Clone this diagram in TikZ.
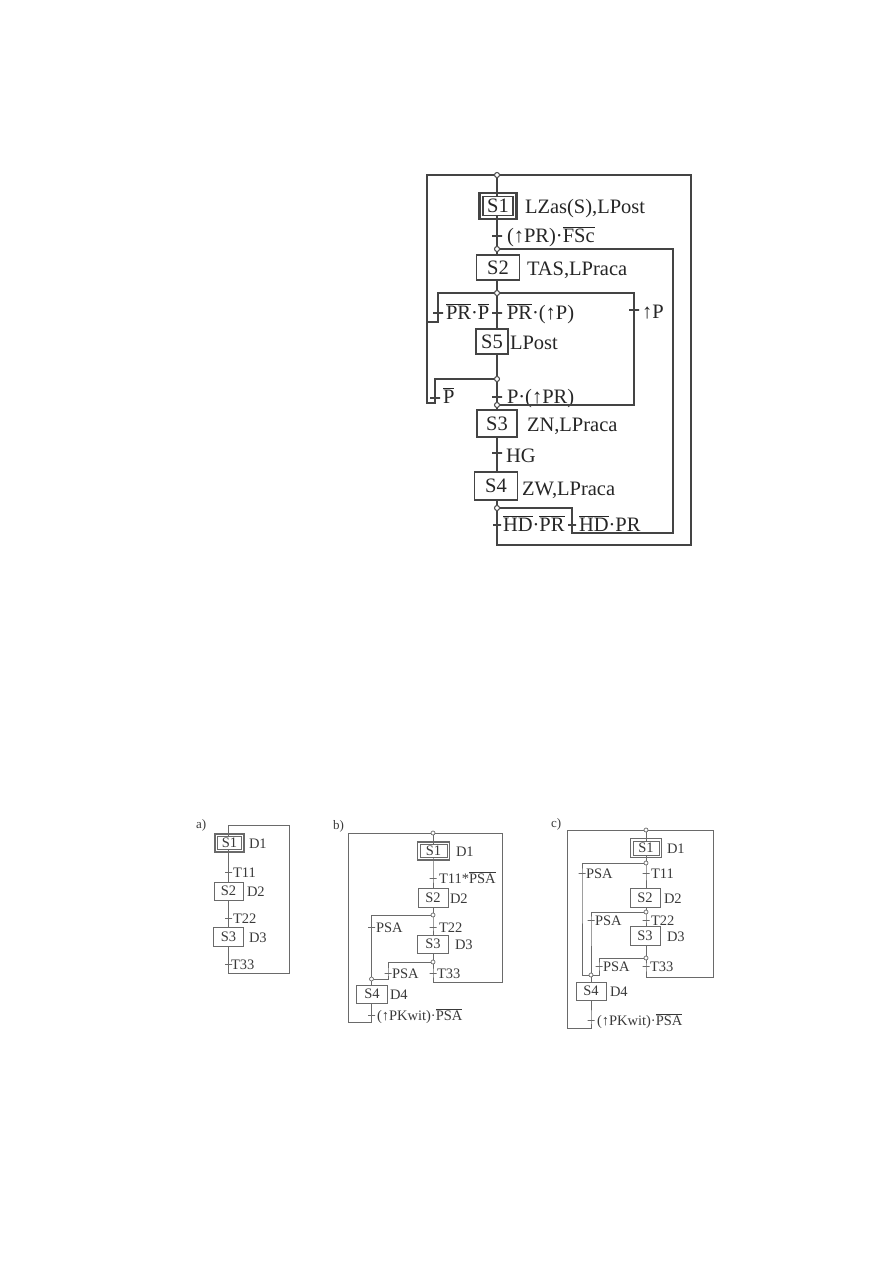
\documentclass[tikz,border=0pt]{standalone}
\usepackage{fontspec}
\setmainfont{Liberation Serif}
\definecolor{inkA}{HTML}{444444}
\definecolor{inkB}{HTML}{6A6A6A}
\definecolor{txtA}{HTML}{262626}
\definecolor{txtB}{HTML}{3A3A3A}
\newcommand\ovl[1]{\ensuremath{\overline{\mbox{#1}}}}
\newcommand\outerframe[3]{\draw[line width=#2] ([shift={(-#3,-#3)}]#1.south west) rectangle ([shift={(#3,#3)}]#1.north east);}
\tikzset{
  stepbox/.style={draw, fill=white, inner sep=0pt, outer sep=0pt, shape=rectangle},
  tick/.style={draw, shape=rectangle, minimum width=10pt, minimum height=0pt, inner sep=0pt, outer sep=0pt},
  tickb/.style={tick, minimum width=7pt},
  dot/.style={draw, circle, fill=white, inner sep=0pt, minimum size=5pt, line width=1pt},
  dotb/.style={dot, minimum size=4pt, line width=0.7pt},
  lab/.style={anchor=base west, inner sep=0pt, outer sep=0pt}
}
\begin{document}
\begin{tikzpicture}[x=1pt,y=-1pt]
\fill[white] (0,0) rectangle (893,1263);
\useasboundingbox (0,0) rectangle (893,1263);

% ================= top diagram =================
\begin{scope}[line width=1.3pt, draw=inkA, text=txtA, font=\fontsize{20.5}{24}\selectfont]
\node[dot] (J0) at (497,175) {};
\node[stepbox, minimum width=30pt, minimum height=19pt] (S1) at (498,206) {S1};
\outerframe{S1}{2.4pt}{3.6pt}
\node[tick] (T1) at (497,236) {};
\node[dot] (J1) at (497,249) {};
\node[stepbox, minimum width=43pt, minimum height=25pt] (S2) at (498,267.5) {S2};
\node[dot] (J2) at (497,293) {};
\node[tick] (T2L) at (438,313) {};
\node[tick] (T2M) at (497,313) {};
\node[tick] (T2R) at (634,310) {};
\node[stepbox, minimum width=32pt, minimum height=25pt] (S5) at (492,341.5) {S5};
\node[dot] (J3) at (497,379) {};
\node[tick] (T3L) at (435,398) {};
\node[tick] (T3M) at (497,397) {};
\node[dot] (J4) at (497,405) {};
\node[stepbox, minimum width=40pt, minimum height=27pt] (S3) at (497,423.5) {S3};
\node[tick] (T4) at (497,453) {};
\node[stepbox, minimum width=43pt, minimum height=28pt] (S4) at (496,486) {S4};
\node[dot] (J5) at (497,508) {};
\node[tick, minimum width=8pt] (T5L) at (497,525) {};
\node[tick, minimum width=8pt] (T5R) at (572,525) {};
\coordinate (OL) at (427,0);
\coordinate (OR) at (691,0);
\coordinate (IR) at (673,0);
\coordinate (LB1) at (0,322);
\coordinate (LB2) at (0,403);
\coordinate (B1) at (0,533);
\coordinate (B2) at (0,545);

% labels
\node[lab] (L1) at (525,213) {LZas(S),LPost};
\node[lab] (L2) at (507,242) {(↑PR)·\ovl{FSc}};
\node[lab] (L3) at (527,275) {TAS,LPraca};
\node[lab] (L4) at (446,319) {\ovl{PR}·\ovl{P}};
\node[lab] (L5) at (507,319) {\ovl{PR}·(↑P)};
\node[lab] (L6) at (642,318) {↑P};
\node[lab] (L7) at (510,349) {LPost};
\node[lab] (L8) at (443,403) {\ovl{P}};
\node[lab] (L9) at (507,403) {P·(↑PR)};
\node[lab] (L10) at (527,431) {ZN,LPraca};
\node[lab] (L11) at (506,462) {HG};
\node[lab] (L12) at (522,495) {ZW,LPraca};
\node[lab] (L13) at (503,531) {\ovl{HD}·\ovl{PR}};
\node[lab] (L14) at (579,531) {\ovl{HD}·PR};

% main line
\draw (J0) -- (J0 |- S1.north);
\draw (J1 |- S1.south) -- (T1.center) -- (J1);
\draw (J1) -- (J1 |- S2.north);
\draw (J2 |- S2.south) -- (J2);
\draw (J2) -- (T2M.center) -- (J2 |- S5.north);
\draw (J3 |- S5.south) -- (J3);
\draw (J3) -- (T3M.center) -- (J4);
\draw (J4) -- (S3);
\draw (S3) -- (T4.center) -- (T4 |- S4.north);
\draw (J5 |- S4.south) -- (J5);
% loops
\draw (J5) -- (T5L.center) -- (T5L |- B2) -- (OR |- B2) -- (OR |- J0) -- (J0);
\draw (J5) -| (T5R.center) -- (T5R |- B1) -- (IR |- B1) -- (IR |- J1) -- (J1);
\draw (J2) -| (T2L.center) -- (T2L |- LB1) -- (OL |- LB1);
\draw (J3) -| (T3L.center) -- (T3L |- LB2) -- (OL |- LB2) -- (OL |- J0) -- (J0);
\draw (J2) -| (T2R.center) -- (T2R |- J4) -- (J4);
\end{scope}

% ================= a) =================
\begin{scope}[line width=0.9pt, draw=inkB, text=txtB, font=\fontsize{14.5}{17}\selectfont]
\node[lab, font=\fontsize{13}{15}\selectfont] (aL) at (196,828) {a)};
\node[stepbox, minimum width=24pt, minimum height=13pt] (aS1) at (229.5,843) {S1};
\outerframe{aS1}{1.6pt}{2.4pt}
\node[tickb] (aT1) at (228.5,872) {};
\node[stepbox, minimum width=29pt, minimum height=18pt] (aS2) at (228.5,891) {S2};
\node[tickb] (aT2) at (228.5,918) {};
\node[stepbox, minimum width=30pt, minimum height=19pt] (aS3) at (228.5,936.5) {S3};
\node[tickb] (aT3) at (228.5,964) {};
\coordinate (aTop) at (228.5,825);
\coordinate (aBot) at (228.5,973);
\coordinate (aR) at (289,0);
\node[lab] (aD1) at (249,848) {D1};
\node[lab] (aX1) at (233,877) {T11};
\node[lab] (aD2) at (247,896) {D2};
\node[lab] (aX2) at (233,923) {T22};
\node[lab] (aD3) at (249,942) {D3};
\node[lab] (aX3) at (231,969) {T33};
\draw (aT1 |- aS1.south) -- (aT1.center) -- (aS2);
\draw (aS2) -- (aT2.center) -- (aS3);
\draw (aS3) -- (aT3.center) -- (aBot) -- (aR |- aBot) -- (aR |- aTop) -- (aTop) -- (aTop |- aS1.north);
\end{scope}

% ================= b) =================
\begin{scope}[line width=0.9pt, draw=inkB, text=txtB, font=\fontsize{14.5}{17}\selectfont]
\node[lab, font=\fontsize{13}{15}\selectfont] (bL0) at (333,829) {b)};
\node[dotb] (bJ0) at (433,833) {};
\node[stepbox, minimum width=27pt, minimum height=13pt] (bS1) at (433.5,851) {S1};
\outerframe{bS1}{1.6pt}{2.4pt}
\node[tickb] (bT1) at (433,878) {};
\node[stepbox, minimum width=30pt, minimum height=19pt] (bS2) at (433,897.5) {S2};
\node[dotb] (bJ1) at (433,915) {};
\node[tickb] (bT2L) at (371.5,927) {};
\node[tickb] (bT2) at (433,927) {};
\node[stepbox, minimum width=31pt, minimum height=18pt] (bS3) at (433,944) {S3};
\node[dotb] (bJ2) at (433,962) {};
\node[tickb] (bT3L) at (388,973) {};
\node[tickb] (bT3) at (433,973) {};
\node[dotb] (bJ3) at (371.5,979) {};
\node[stepbox, minimum width=31pt, minimum height=18pt] (bS4) at (372,994) {S4};
\node[tickb] (bT4) at (371.5,1015) {};
\coordinate (bLx) at (348,0);
\coordinate (bRx) at (502,0);
\coordinate (bB1) at (0,982);
\coordinate (bB2) at (0,1022);
\node[lab] (bD1) at (456,856) {D1};
\node[lab] (bX1) at (439,883) {T11*\ovl{PSA}};
\node[lab] (bD2) at (450,903) {D2};
\node[lab] (bP1) at (376,932) {PSA};
\node[lab] (bX2) at (439,932) {T22};
\node[lab] (bD3) at (455,949) {D3};
\node[lab] (bP2) at (392,978) {PSA};
\node[lab] (bX3) at (437,978) {T33};
\node[lab] (bD4) at (390,999) {D4};
\node[lab] (bX4) at (377,1020) {(↑PKwit)·\ovl{PSA}};
\draw (bJ0) -- (bJ0 |- bS1.north);
\draw (bT1 |- bS1.south) -- (bT1.center) -- (bS2);
\draw (bS2) -- (bJ1);
\draw (bJ1) -- (bT2.center) -- (bS3);
\draw (bS3) -- (bJ2);
\draw (bJ2) -- (bT3.center) -- (bT3 |- bB1) -- (bRx |- bB1) -- (bRx |- bJ0) -- (bJ0);
\draw (bJ1) -| (bT2L.center) -- (bJ3);
\draw (bJ2) -| (bT3L.center) -- (bT3L |- bJ3) -- (bJ3);
\draw (bJ3) -- (bJ3 |- bS4.north);
\draw (bJ3 |- bS4.south) -- (bT4.center) -- (bT4 |- bB2) -- (bLx |- bB2) -- (bLx |- bJ0) -- (bJ0);
\end{scope}

% ================= c) =================
\begin{scope}[line width=0.9pt, draw=inkB, text=txtB, font=\fontsize{14.5}{17}\selectfont]
\node[lab, font=\fontsize{13}{15}\selectfont] (cL0) at (551,827) {c)};
\node[dotb] (cJ0) at (646,830) {};
\node[stepbox, minimum width=26pt, minimum height=14pt] (cS1) at (646,848) {S1};
\outerframe{cS1}{1.6pt}{2.4pt}
\node[dotb] (cJ1) at (646,863) {};
\node[tickb] (cT1L) at (582,873) {};
\node[tickb] (cT1) at (646,873) {};
\node[stepbox, minimum width=30pt, minimum height=19pt] (cS2) at (645,897.5) {S2};
\node[dotb] (cJ2) at (646,912) {};
\node[tickb] (cT2L) at (591,920) {};
\node[tickb] (cT2) at (646,920) {};
\node[stepbox, minimum width=30pt, minimum height=19pt] (cS3) at (645,935.5) {S3};
\node[dotb] (cJ3) at (646,958) {};
\node[tickb] (cT3L) at (599,966) {};
\node[tickb] (cT3) at (646,966) {};
\node[dotb] (cJ4) at (591,975) {};
\node[stepbox, minimum width=30pt, minimum height=18pt] (cS4) at (591,991) {S4};
\node[tickb] (cT4) at (591,1020) {};
\coordinate (cLx) at (567,0);
\coordinate (cRx) at (713,0);
\coordinate (cB1) at (0,977);
\coordinate (cB2) at (0,1028);
\node[lab] (cD1) at (667,853) {D1};
\node[lab] (cP1) at (586,878) {PSA};
\node[lab] (cX1) at (651,878) {T11};
\node[lab] (cD2) at (664,903) {D2};
\node[lab] (cP2) at (595,925) {PSA};
\node[lab] (cX2) at (651,925) {T22};
\node[lab] (cD3) at (667,941) {D3};
\node[lab] (cP3) at (603,971) {PSA};
\node[lab] (cX3) at (650,971) {T33};
\node[lab] (cD4) at (610,996) {D4};
\node[lab] (cX4) at (597,1025) {(↑PKwit)·\ovl{PSA}};
\draw (cJ0) -- (cJ0 |- cS1.north);
\draw (cJ1 |- cS1.south) -- (cJ1);
\draw (cJ1) -- (cT1.center) -- (cJ1 |- cS2.north);
\draw (cJ2 |- cS2.south) -- (cJ2);
\draw (cJ2) -- (cT2.center) -- (cJ2 |- cS3.north);
\draw (cJ3 |- cS3.south) -- (cJ3);
\draw (cJ3) -- (cT3.center) -- (cT3 |- cB1) -- (cRx |- cB1) -- (cRx |- cJ0) -- (cJ0);
\draw (cJ1) -| (cT1L.center) -- (cT1L |- cJ4) -- (cJ4);
\draw (cJ2) -| (cT2L.center) -- (cJ4);
\draw (cJ3) -| (cT3L.center) -- (cT3L |- cJ4) -- (cJ4);
\draw (cJ4) -- (cS4);
\draw (cS4) -- (cT4.center) -- (cT4 |- cB2) -- (cLx |- cB2) -- (cLx |- cJ0) -- (cJ0);
\end{scope}
\end{tikzpicture}
\end{document}
